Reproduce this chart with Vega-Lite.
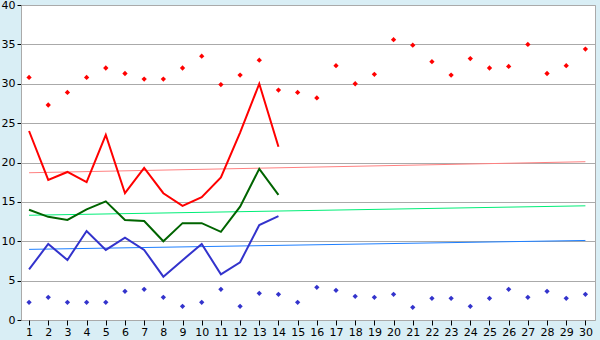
{
  "$schema": "https://vega.github.io/schema/vega-lite/v6.json",
  "autosize": {"type": "none"},
  "width": 574,
  "height": 315,
  "padding": {"left": 21, "top": 5, "right": 5, "bottom": 20},
  "background": "#d9eef5",
  "config": {
    "view": {"fill": "white", "stroke": "#aaaaaa", "strokeWidth": 1},
    "axis": {"labelFont": "DejaVu Sans", "labelFontSize": 11, "labelColor": "black", "domainColor": "#aaaaaa", "tickColor": "black", "title": null}
  },
  "datasets": {
    "lines": [
      {"day": 1, "s": "red", "v": 24.0}, {"day": 2, "s": "red", "v": 17.8}, {"day": 3, "s": "red", "v": 18.8}, {"day": 4, "s": "red", "v": 17.5}, {"day": 5, "s": "red", "v": 23.5}, {"day": 6, "s": "red", "v": 16.1}, {"day": 7, "s": "red", "v": 19.3}, {"day": 8, "s": "red", "v": 16.1}, {"day": 9, "s": "red", "v": 14.5}, {"day": 10, "s": "red", "v": 15.6}, {"day": 11, "s": "red", "v": 18.1}, {"day": 12, "s": "red", "v": 23.8}, {"day": 13, "s": "red", "v": 30.0}, {"day": 14, "s": "red", "v": 22.0},
      {"day": 1, "s": "green", "v": 14.0}, {"day": 2, "s": "green", "v": 13.1}, {"day": 3, "s": "green", "v": 12.7}, {"day": 4, "s": "green", "v": 14.05}, {"day": 5, "s": "green", "v": 15.07}, {"day": 6, "s": "green", "v": 12.7}, {"day": 7, "s": "green", "v": 12.57}, {"day": 8, "s": "green", "v": 10.0}, {"day": 9, "s": "green", "v": 12.3}, {"day": 10, "s": "green", "v": 12.3}, {"day": 11, "s": "green", "v": 11.2}, {"day": 12, "s": "green", "v": 14.4}, {"day": 13, "s": "green", "v": 19.2}, {"day": 14, "s": "green", "v": 15.9},
      {"day": 1, "s": "blue", "v": 6.43}, {"day": 2, "s": "blue", "v": 9.65}, {"day": 3, "s": "blue", "v": 7.62}, {"day": 4, "s": "blue", "v": 11.3}, {"day": 5, "s": "blue", "v": 8.9}, {"day": 6, "s": "blue", "v": 10.45}, {"day": 7, "s": "blue", "v": 8.9}, {"day": 8, "s": "blue", "v": 5.5}, {"day": 9, "s": "blue", "v": 7.6}, {"day": 10, "s": "blue", "v": 9.65}, {"day": 11, "s": "blue", "v": 5.8}, {"day": 12, "s": "blue", "v": 7.33}, {"day": 13, "s": "blue", "v": 12.06}, {"day": 14, "s": "blue", "v": 13.2}
    ],
    "trends": [
      {"day": 1, "s": "tred", "v": 18.7}, {"day": 30, "s": "tred", "v": 20.1},
      {"day": 1, "s": "tgreen", "v": 13.3}, {"day": 30, "s": "tgreen", "v": 14.5},
      {"day": 1, "s": "tblue", "v": 8.97}, {"day": 30, "s": "tblue", "v": 10.1}
    ],
    "points": [
      {"day": 1, "s": "high", "v": 30.8}, {"day": 2, "s": "high", "v": 27.3}, {"day": 3, "s": "high", "v": 28.9}, {"day": 4, "s": "high", "v": 30.8}, {"day": 5, "s": "high", "v": 32.0}, {"day": 6, "s": "high", "v": 31.3}, {"day": 7, "s": "high", "v": 30.6}, {"day": 8, "s": "high", "v": 30.6}, {"day": 9, "s": "high", "v": 32.0}, {"day": 10, "s": "high", "v": 33.5},
      {"day": 11, "s": "high", "v": 29.9}, {"day": 12, "s": "high", "v": 31.1}, {"day": 13, "s": "high", "v": 33.0}, {"day": 14, "s": "high", "v": 29.2}, {"day": 15, "s": "high", "v": 28.9}, {"day": 16, "s": "high", "v": 28.2}, {"day": 17, "s": "high", "v": 32.3}, {"day": 18, "s": "high", "v": 30.0}, {"day": 19, "s": "high", "v": 31.2}, {"day": 20, "s": "high", "v": 35.6},
      {"day": 21, "s": "high", "v": 34.9}, {"day": 22, "s": "high", "v": 32.8}, {"day": 23, "s": "high", "v": 31.1}, {"day": 24, "s": "high", "v": 33.2}, {"day": 25, "s": "high", "v": 32.0}, {"day": 26, "s": "high", "v": 32.2}, {"day": 27, "s": "high", "v": 35.0}, {"day": 28, "s": "high", "v": 31.3}, {"day": 29, "s": "high", "v": 32.3}, {"day": 30, "s": "high", "v": 34.4},
      {"day": 1, "s": "low", "v": 2.25}, {"day": 2, "s": "low", "v": 2.88}, {"day": 3, "s": "low", "v": 2.25}, {"day": 4, "s": "low", "v": 2.25}, {"day": 5, "s": "low", "v": 2.25}, {"day": 6, "s": "low", "v": 3.64}, {"day": 7, "s": "low", "v": 3.9}, {"day": 8, "s": "low", "v": 2.88}, {"day": 9, "s": "low", "v": 1.74}, {"day": 10, "s": "low", "v": 2.25},
      {"day": 11, "s": "low", "v": 3.9}, {"day": 12, "s": "low", "v": 1.74}, {"day": 13, "s": "low", "v": 3.39}, {"day": 14, "s": "low", "v": 3.26}, {"day": 15, "s": "low", "v": 2.25}, {"day": 16, "s": "low", "v": 4.15}, {"day": 17, "s": "low", "v": 3.77}, {"day": 18, "s": "low", "v": 3.01}, {"day": 19, "s": "low", "v": 2.88}, {"day": 20, "s": "low", "v": 3.26},
      {"day": 21, "s": "low", "v": 1.61}, {"day": 22, "s": "low", "v": 2.75}, {"day": 23, "s": "low", "v": 2.75}, {"day": 24, "s": "low", "v": 1.74}, {"day": 25, "s": "low", "v": 2.75}, {"day": 26, "s": "low", "v": 3.9}, {"day": 27, "s": "low", "v": 2.88}, {"day": 28, "s": "low", "v": 3.64}, {"day": 29, "s": "low", "v": 2.75}, {"day": 30, "s": "low", "v": 3.26}
    ]
  },
  "encoding": {
    "x": {"field": "day", "type": "quantitative", "scale": {"domain": [0.58, 30.5], "nice": false, "zero": false},
          "axis": {"values": [1,2,3,4,5,6,7,8,9,10,11,12,13,14,15,16,17,18,19,20,21,22,23,24,25,26,27,28,29,30], "grid": false, "tickSize": 5, "labelPadding": 1, "domain": false}},
    "y": {"field": "v", "type": "quantitative", "scale": {"domain": [0, 40], "nice": false},
          "axis": {"values": [0,5,10,15,20,25,30,35,40], "grid": true, "gridColor": "#aaaaaa", "gridOpacity": 1, "tickSize": 4, "labelPadding": 2}},
    "color": {"field": "s", "type": "nominal", "legend": null,
              "scale": {"domain": ["red", "green", "blue", "tred", "tgreen", "tblue", "high", "low"],
                        "range": ["#ff0000", "#006400", "#3333cc", "#ff8080", "#00ee77", "#1e7fff", "#ff0000", "#3333cc"]}}
  },
  "layer": [
    {"data": {"name": "trends"}, "mark": {"type": "line", "strokeWidth": 1}, "encoding": {"detail": {"field": "s"}}},
    {"data": {"name": "lines"}, "mark": {"type": "line", "strokeWidth": 2}, "encoding": {"detail": {"field": "s"}}},
    {"data": {"name": "points"}, "mark": {"type": "point", "shape": "diamond", "filled": true, "size": 28, "opacity": 1}}
  ]
}
